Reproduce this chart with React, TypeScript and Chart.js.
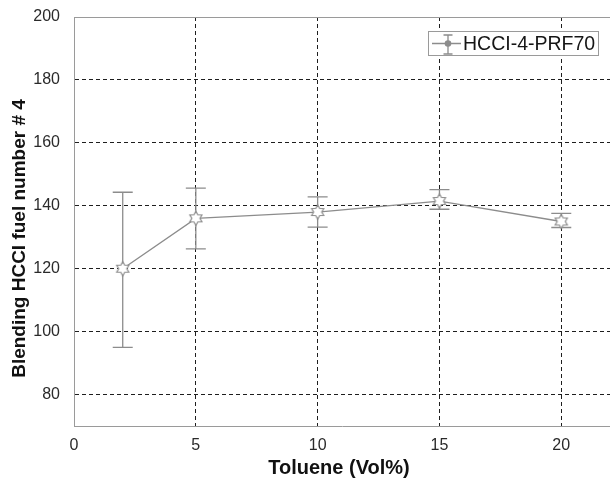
import { useEffect, useRef } from "react";
import { Chart, registerables } from "chart.js";

Chart.register(...registerables);

// Measured series: blending HCCI fuel number vs. toluene content
const toluene = [2, 5, 10, 15, 20];
const blendingNumber = [120, 136, 138, 141.5, 135];
const errorLower = [95, 126.3, 133.2, 138.9, 133.1];
const errorUpper = [144.3, 145.6, 142.8, 145.1, 137.6];

const xTickValues = [0, 5, 10, 15, 20];
const yTickValues = [80, 100, 120, 140, 160, 180, 200];

const seriesLabel = "HCCI-4-PRF70";
const xTitle = "Toluene (Vol%)";
const yTitle = "Blending HCCI fuel number # 4";

const FONT = "'Liberation Sans', Arial, Helvetica, sans-serif";
const SERIES_COLOR = "#8c8c8c";
const FRAME_COLOR = "#9a9a9a";
const GRID_COLOR = "#1e1e1e";
const TEXT_COLOR = "#2a2a2a";

// Six-pointed star outline used as the point marker
function makeHexagram(r: number, color: string): HTMLCanvasElement {
  const size = Math.ceil(r * 2 + 4);
  const c = document.createElement("canvas");
  c.width = size;
  c.height = size;
  const g = c.getContext("2d")!;
  const cx = size / 2;
  const cy = size / 2;
  const inner = r / Math.sqrt(3);
  g.beginPath();
  for (let i = 0; i < 12; i++) {
    const a = -Math.PI / 2 + (i * Math.PI) / 6;
    const rr = i % 2 === 0 ? r : inner;
    const px = cx + rr * Math.cos(a);
    const py = cy + rr * Math.sin(a);
    if (i === 0) g.moveTo(px, py);
    else g.lineTo(px, py);
  }
  g.closePath();
  g.fillStyle = "#ffffff";
  g.fill();
  g.strokeStyle = color;
  g.lineWidth = 1.2;
  g.stroke();
  return c;
}

// Vertical error bars with caps, placed through the chart scales
const errorBarPlugin = {
  id: "errorBars",
  beforeDatasetsDraw(chart: any) {
    const { ctx, scales } = chart;
    const x = scales.x;
    const y = scales.y;
    const cap = 10;
    ctx.save();
    ctx.strokeStyle = SERIES_COLOR;
    ctx.lineWidth = 1.3;
    toluene.forEach((xv, i) => {
      const px = x.getPixelForValue(xv);
      const top = y.getPixelForValue(errorUpper[i]);
      const bot = y.getPixelForValue(errorLower[i]);
      ctx.beginPath();
      ctx.moveTo(px, top);
      ctx.lineTo(px, bot);
      ctx.moveTo(px - cap, top);
      ctx.lineTo(px + cap, top);
      ctx.moveTo(px - cap, bot);
      ctx.lineTo(px + cap, bot);
      ctx.stroke();
    });
    ctx.restore();
  },
};

// Top frame edge, axis titles and the boxed legend
const decorPlugin = {
  id: "decor",
  afterDraw(chart: any) {
    const { ctx, chartArea } = chart;
    const { left, right, top, bottom } = chartArea;
    ctx.save();

    // top frame edge
    ctx.strokeStyle = FRAME_COLOR;
    ctx.lineWidth = 1;
    ctx.beginPath();
    ctx.moveTo(left, Math.round(top) + 0.5);
    ctx.lineTo(right, Math.round(top) + 0.5);
    ctx.stroke();

    // axis titles
    ctx.fillStyle = "#111111";
    ctx.textAlign = "center";
    ctx.textBaseline = "middle";
    ctx.font = `bold 20px ${FONT}`;
    ctx.fillText(xTitle, (left + right) / 2 - 3, bottom + 42);
    ctx.font = `bold 19px ${FONT}`;
    ctx.save();
    ctx.translate(20, (top + bottom) / 2 + 17);
    ctx.rotate(-Math.PI / 2);
    ctx.fillText(yTitle, 0, 0);
    ctx.restore();

    // legend box
    const bx = 428;
    const by = 31;
    const bw = 170;
    const bh = 24;
    ctx.fillStyle = "#ffffff";
    ctx.fillRect(bx, by, bw, bh);
    ctx.strokeStyle = FRAME_COLOR;
    ctx.lineWidth = 1;
    ctx.strokeRect(bx + 0.5, by + 0.5, bw, bh);

    const my = by + bh / 2 + 0.5;
    const mx = bx + 20;
    ctx.strokeStyle = SERIES_COLOR;
    ctx.lineWidth = 1.3;
    ctx.beginPath();
    ctx.moveTo(bx + 4, my);
    ctx.lineTo(bx + 33, my);
    ctx.moveTo(mx, by + 4);
    ctx.lineTo(mx, by + bh - 1);
    ctx.moveTo(mx - 4.5, by + 4);
    ctx.lineTo(mx + 4.5, by + 4);
    ctx.moveTo(mx - 4.5, by + bh - 1);
    ctx.lineTo(mx + 4.5, by + bh - 1);
    ctx.stroke();
    ctx.fillStyle = SERIES_COLOR;
    ctx.beginPath();
    ctx.arc(mx, my, 3.3, 0, Math.PI * 2);
    ctx.fill();

    ctx.fillStyle = "#151515";
    ctx.font = `19.5px ${FONT}`;
    ctx.textAlign = "left";
    ctx.textBaseline = "middle";
    ctx.fillText(seriesLabel, bx + 35, my + 1);

    ctx.restore();
  },
};

export default function App() {
  const canvasRef = useRef<HTMLCanvasElement | null>(null);

  useEffect(() => {
    document.body.style.margin = "0";
    const canvas = canvasRef.current;
    if (!canvas) return;

    const marker = makeHexagram(7, SERIES_COLOR);

    const chart = new Chart(canvas, {
      type: "line",
      data: {
        datasets: [
          {
            label: seriesLabel,
            data: toluene.map((xv, i) => ({ x: xv, y: blendingNumber[i] })),
            borderColor: SERIES_COLOR,
            borderWidth: 1.3,
            pointStyle: marker as any,
            pointRadius: 6,
            tension: 0,
            fill: false,
            clip: false as any,
          },
        ],
      },
      options: {
        responsive: false,
        animation: false,
        devicePixelRatio: 1,
        layout: { autoPadding: false, padding: { top: 17, right: 0, bottom: 0, left: 0 } },
        plugins: {
          legend: { display: false },
          tooltip: { enabled: false },
        },
        scales: {
          x: {
            type: "linear",
            min: 0,
            max: 22,
            afterBuildTicks: (scale: any) => {
              scale.ticks = xTickValues.map((v) => ({ value: v }));
            },
            afterFit: (scale: any) => {
              scale.height = 61;
              scale.paddingLeft = 0;
              scale.paddingRight = 0;
            },
            grid: {
              color: (ctx: any) =>
                ctx.tick && ctx.tick.value === xTickValues[0] ? "rgba(0,0,0,0)" : GRID_COLOR,
              lineWidth: 1,
              drawTicks: false,
            },
            border: { color: FRAME_COLOR, width: 1, dash: [4, 3] },
            ticks: {
              color: TEXT_COLOR,
              font: { family: FONT, size: 16 },
              padding: 10,
              maxRotation: 0,
              autoSkip: false,
            },
          },
          y: {
            type: "linear",
            min: 70,
            max: 200,
            afterBuildTicks: (scale: any) => {
              scale.ticks = yTickValues.map((v) => ({ value: v }));
            },
            afterFit: (scale: any) => {
              scale.width = 74;
              scale.paddingTop = 0;
              scale.paddingBottom = 0;
            },
            grid: {
              color: (ctx: any) =>
                ctx.tick && ctx.tick.value === yTickValues[yTickValues.length - 1]
                  ? "rgba(0,0,0,0)"
                  : GRID_COLOR,
              lineWidth: 1,
              drawTicks: false,
            },
            border: { color: FRAME_COLOR, width: 1, dash: [4, 3] },
            ticks: {
              color: TEXT_COLOR,
              font: { family: FONT, size: 16 },
              padding: 14,
              autoSkip: false,
            },
          },
        },
      },
      plugins: [errorBarPlugin, decorPlugin],
    });

    return () => chart.destroy();
  }, []);

  return (
    <div style={{ width: 610, height: 487, background: "#ffffff" }}>
      <canvas ref={canvasRef} width={610} height={487} />
    </div>
  );
}
